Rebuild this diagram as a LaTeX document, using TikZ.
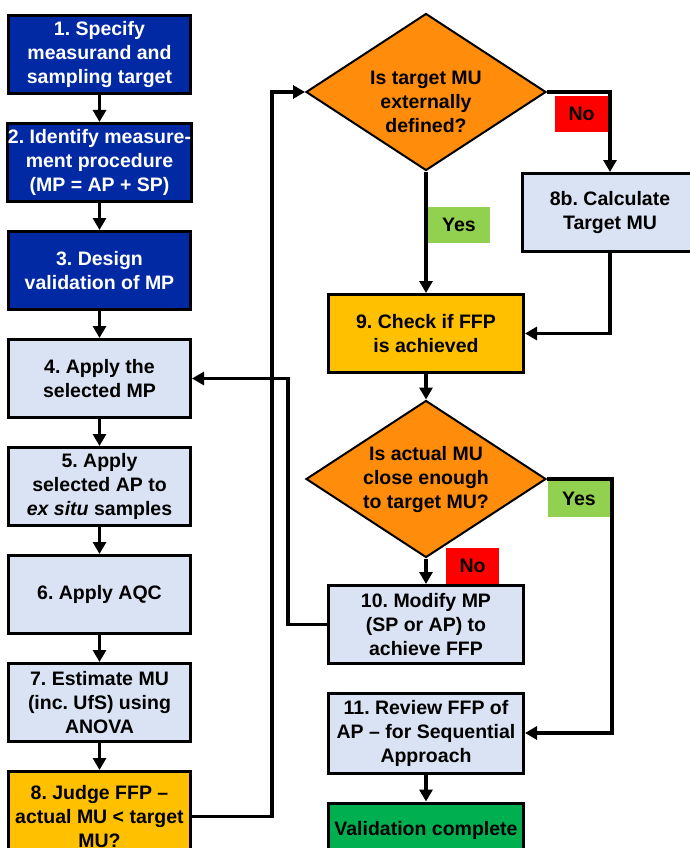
\documentclass[tikz,border=0pt]{standalone}
\usepackage{fontspec}
\setmainfont{Liberation Sans}
\usetikzlibrary{positioning,arrows.meta,shapes.geometric}
\definecolor{figblue}{RGB}{0,41,163}
\definecolor{figpale}{RGB}{218,227,243}
\definecolor{figorange}{RGB}{255,140,10}
\definecolor{figgold}{RGB}{255,192,0}
\definecolor{figlime}{RGB}{146,208,80}
\definecolor{figred}{RGB}{255,0,0}
\definecolor{figgreen}{RGB}{0,176,80}
\frenchspacing
\tikzset{
  fig/.style={font=\fontsize{19.5}{24}\selectfont\bfseries},
  box/.style={draw,line width=3pt,minimum height=78pt,minimum width=182pt,align=center,
              inner xsep=0pt,inner ysep=2pt},
  bluebox/.style={box,fill=figblue,text=white},
  palebox/.style={box,fill=figpale},
  goldbox/.style={box,fill=figgold},
  endbox/.style={box,fill=figgreen},
  dec/.style={diamond,draw,line width=2pt,fill=figorange,minimum width=240pt,
              minimum height=157pt,inner sep=0pt},
  dectxt/.style={align=center,inner sep=0pt},
  ln/.style={-{Triangle[length=12pt,width=13pt]},line width=3.5pt},
  tag/.style={inner sep=0pt,minimum height=36pt,minimum width=53pt},
  yestag/.style={tag,fill=figlime,minimum width=62pt},
  notag/.style={tag,fill=figred},
}

\begin{document}
\begin{tikzpicture}[fig,x=1pt,y=-1pt,node distance=27pt]
\useasboundingbox (0,0) rectangle (689,848);

% left column
\node[bluebox] (b1) at (99.5,54.5) {1. Specify\\measurand and\\sampling target};
\node[bluebox,below=of b1] (b2) {2. Identify measure-\\ment procedure\\(MP = AP + SP)};
\node[bluebox,below=of b2] (b3) {3. Design\\validation of MP};
\node[palebox,below=of b3] (b4) {4. Apply the\\selected MP};
\node[palebox,below=of b4] (b5) {5. Apply\\selected AP to\\\textit{ex situ} samples};
\node[palebox,below=of b5] (b6) {6. Apply AQC};
\node[palebox,below=of b6] (b7) {7. Estimate MU\\(inc. UfS) using\\ANOVA};
\node[goldbox,below=of b7,minimum height=90pt] (b8) {8. Judge FFP --\\actual MU < target\\MU?};

% right column
\node[dec,label={[dectxt,yshift=-10pt]center:Is target MU\\externally\\defined?}] (q1) at (426,92) {};
\node[palebox,minimum width=176pt] (b8b) at (610,212.5) {8b. Calculate\\Target MU};
\node[goldbox,minimum width=195pt] (b9) at (426,333.5) {9. Check if FFP\\is achieved};
\node[dec,label={[dectxt]center:Is actual MU\\close enough\\to target MU?}] (q2) at (426,479) {};
\node[palebox,minimum width=195pt] (b10) at (426,624.5) {10. Modify MP\\(SP or AP) to\\achieve FFP};
\node[palebox,minimum width=195pt,minimum height=80pt] (b11) at (426,733) {11. Review FFP of\\AP -- for Sequential\\Approach};
\node[endbox,minimum width=195pt,minimum height=54pt] (bv) at (426,830) {Validation complete};

\node[notag] (no1) at (581.5,114) {No};
\node[yestag] (yes1) at (459,225) {Yes};
\node[yestag,minimum height=37pt] (yes2) at (579,498.5) {Yes};
\node[notag] (no2) at (472.5,566) {No};

\coordinate (jl) at (272,0);
\coordinate (jm) at (288,0);
\coordinate (jr) at (612,0);

\foreach \a/\b in {b1/b2,b2/b3,b3/b4,b4/b5,b5/b6,b6/b7,b7/b8}
  \draw[ln] (\a) -- (\b);

\draw[ln] (b8.east) -- (b8.east -| jl) -- (jl |- q1.west) -- (q1.west);
\draw[ln] (q1.east) -| (b8b.north);
\draw[ln] (q1) -- (b9);
\draw[ln] (b8b.south) |- (b9.east);
\draw[ln] (b9) -- (q2);
\draw[ln] (q2) -- (b10);
\draw[ln] (q2.east) -- (q2.east -| jr) -- (jr |- b11.east) -- (b11.east);
\draw[ln] (b10.west) -- (b10.west -| jm) -- (jm |- b4.east) -- (b4.east);
\draw[ln] (b11) -- (bv);

\end{tikzpicture}
\end{document}
